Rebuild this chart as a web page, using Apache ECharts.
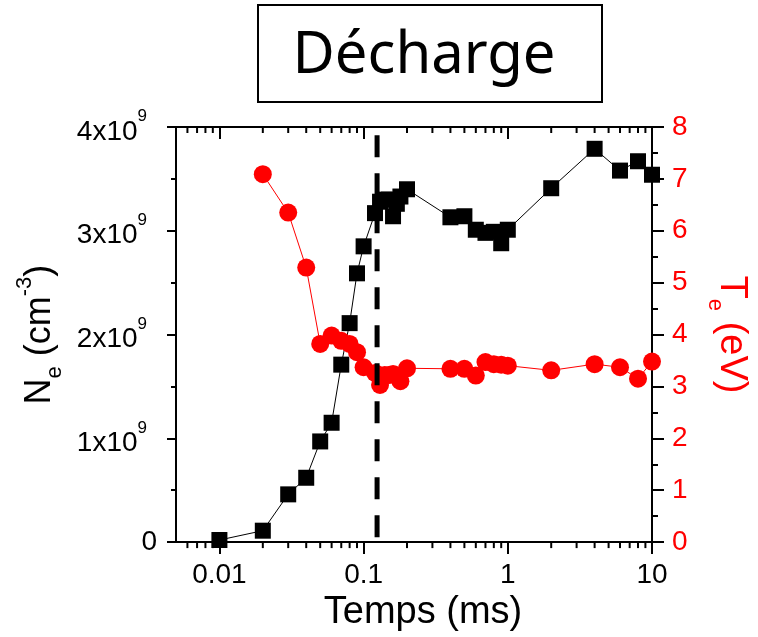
<!DOCTYPE html>
<html>
<head>
<meta charset="utf-8">
<script src="https://cdn.jsdelivr.net/npm/echarts@6/dist/echarts.min.js"></script>
<style>
  html, body { margin: 0; padding: 0; background: #fff; }
  #chart { width: 758px; height: 637px; }
</style>
</head>
<body>
<div id="chart"></div>
<script>
// temps (ms) et densité électronique (x1e9 cm-3)
var neTimes = [0.01, 0.02, 0.03, 0.04, 0.05, 0.06, 0.07, 0.08, 0.09, 0.1, 0.12, 0.13, 0.14, 0.15, 0.16, 0.17, 0.18, 0.2,
  0.4, 0.5, 0.6, 0.7, 0.8, 0.9, 1, 2, 4, 6, 8, 10];
var neValues = [0.02, 0.11, 0.46, 0.62, 0.97, 1.15, 1.71, 2.11, 2.59, 2.85, 3.17, 3.28, 3.30, 3.30, 3.14, 3.26, 3.33, 3.40,
  3.13, 3.14, 3.01, 2.98, 2.99, 2.88, 3.01, 3.41, 3.79, 3.58, 3.67, 3.54];

// température électronique (eV)
var teTimes = [0.02, 0.03, 0.04, 0.05, 0.06, 0.07, 0.08, 0.09, 0.1, 0.12, 0.13, 0.14, 0.15, 0.16, 0.17, 0.18, 0.2,
  0.4, 0.5, 0.6, 0.7, 0.8, 0.9, 1, 2, 4, 6, 8, 10];
var teValues = [7.09, 6.35, 5.29, 3.82, 3.98, 3.88, 3.82, 3.66, 3.37, 3.26, 3.03, 3.22, 3.22, 3.24, 3.21, 3.10, 3.35,
  3.34, 3.34, 3.21, 3.47, 3.43, 3.42, 3.40, 3.31, 3.43, 3.37, 3.15, 3.48];

// ligne pointillée verticale (ms) et son étendue sur l'axe Ne
var dashTime = 0.124;
var dashSpan = [-0.08e9, 3.92e9];

var xTickLabels = ['0.01', '0.1', '1', '10'];
var xMinorTicks = [0.006, 0.007, 0.008, 0.009,
  0.02, 0.03, 0.04, 0.05, 0.06, 0.07, 0.08, 0.09,
  0.2, 0.3, 0.4, 0.5, 0.6, 0.7, 0.8, 0.9,
  2, 3, 4, 5, 6, 7, 8, 9];
var neTickLabels = ['0', '1x10', '2x10', '3x10', '4x10'];
var neExponent = '9';
var teTickLabels = ['0', '1', '2', '3', '4', '5', '6', '7', '8'];

var FONT = '"Liberation Sans", Arial, sans-serif';

var chart = echarts.init(document.getElementById('chart'));

function xLabel(v) {
  var e = Math.log10(v);
  var k = Math.round(e);
  if (Math.abs(e - k) > 1e-6) return '';
  return xTickLabels[k + 2] || '';
}

var option = {
  animation: false,
  backgroundColor: '#fff',
  graphic: [
    {
      type: 'rect',
      shape: {x: 258, y: 5, width: 344, height: 97},
      style: {fill: '#fff', stroke: '#000', lineWidth: 2}
    },
    {
      type: 'text',
      x: 424, y: 56,
      style: {
        text: 'Décharge',
        font: '58px "Comic Sans MS", "Noto Sans", sans-serif',
        fill: '#000',
        align: 'center',
        verticalAlign: 'middle'
      }
    }
  ],
  grid: {left: 176, top: 127, width: 477, height: 417},
  xAxis: [
    {
      type: 'log',
      logBase: 10,
      min: 0.005,
      max: 10,
      position: 'bottom',
      name: 'Temps (ms)',
      nameLocation: 'middle',
      nameGap: 48,
      nameTextStyle: {fontSize: 38, fontFamily: FONT, color: '#000', padding: [0, 0, 0, 18]},
      axisLine: {show: true, onZero: false, lineStyle: {color: '#000', width: 2}},
      axisTick: {show: true, inside: false, length: 12, lineStyle: {color: '#000', width: 2}},
      minorTick: {show: false},
      axisLabel: {
        formatter: xLabel,
        fontSize: 28, fontFamily: FONT, color: '#000', margin: 19,
        showMinLabel: false
      },
      splitLine: {show: false}
    },
    {
      type: 'log',
      logBase: 10,
      min: 0.005,
      max: 10,
      position: 'top',
      axisLine: {show: true, onZero: false, lineStyle: {color: '#000', width: 2}},
      axisTick: {show: true, inside: true, length: 12, lineStyle: {color: '#000', width: 2}},
      axisLabel: {show: false},
      splitLine: {show: false}
    }
  ],
  yAxis: [
    {
      type: 'value',
      min: 0,
      max: 4e9,
      interval: 1e9,
      position: 'left',
      name: '{n|N}{sub|e}{n| (cm}{sup|-3}{n|)}',
      nameLocation: 'middle',
      nameGap: 108,
      nameTextStyle: {
        fontSize: 36, fontFamily: FONT, color: '#000',
        rich: {
          n: {fontSize: 36, fontFamily: FONT, color: '#000', lineHeight: 52},
          sub: {fontSize: 22, fontFamily: FONT, color: '#000', verticalAlign: 'bottom'},
          sup: {fontSize: 22, fontFamily: FONT, color: '#000', verticalAlign: 'top'}
        }
      },
      axisLine: {show: true, onZero: false, lineStyle: {color: '#000', width: 2}},
      axisTick: {show: true, inside: false, length: 9, lineStyle: {color: '#000', width: 2}},
      minorTick: {show: true, splitNumber: 2, length: 5, lineStyle: {color: '#000', width: 2}},
      axisLabel: {
        margin: 19,
        formatter: function (v) {
          var i = Math.round(v / 1e9);
          if (i === 0) return '{z|' + neTickLabels[0] + '}';
          return '{b|' + neTickLabels[i] + '}{s|' + neExponent + '}';
        },
        rich: {
          z: {fontSize: 28, fontFamily: FONT, color: '#000'},
          b: {fontSize: 28, fontFamily: FONT, color: '#000', padding: [10, 0, 0, 0]},
          s: {fontSize: 17, fontFamily: FONT, color: '#000', verticalAlign: 'top', padding: [0, 10, 0, 0]}
        }
      },
      splitLine: {show: false}
    },
    {
      type: 'value',
      min: 0,
      max: 8,
      interval: 1,
      position: 'right',
      name: '{n|T}{sub|e}{n| (eV)}',
      nameLocation: 'middle',
      nameRotate: -90,
      nameGap: 52,
      nameTextStyle: {
        fontSize: 38, fontFamily: FONT, color: '#ff0000',
        rich: {
          n: {fontSize: 38, fontFamily: FONT, color: '#ff0000', lineHeight: 54},
          sub: {fontSize: 22, fontFamily: FONT, color: '#ff0000', verticalAlign: 'bottom'}
        }
      },
      axisLine: {show: true, onZero: false, lineStyle: {color: '#000', width: 2}},
      axisTick: {show: true, inside: false, length: 12, lineStyle: {color: '#000', width: 2}},
      minorTick: {show: true, splitNumber: 2, length: 6, lineStyle: {color: '#000', width: 2}},
      axisLabel: {
        margin: 20,
        fontSize: 28, fontFamily: FONT, color: '#ff0000',
        formatter: function (v) { return teTickLabels[Math.round(v)]; }
      },
      splitLine: {show: false}
    }
  ],
  series: [
    {
      // petites graduations logarithmiques (haut et bas)
      type: 'custom',
      xAxisIndex: 0,
      yAxisIndex: 0,
      silent: true,
      clip: false,
      z: 1,
      data: xMinorTicks.map(function (v) { return [v, 0]; }),
      renderItem: function (params, api) {
        var x = api.coord([api.value(0), 0])[0];
        var cs = params.coordSys;
        return {
          type: 'group',
          children: [
            {type: 'line', shape: {x1: x, y1: cs.y + cs.height, x2: x, y2: cs.y + cs.height + 6},
              style: {stroke: '#000', lineWidth: 2}},
            {type: 'line', shape: {x1: x, y1: cs.y, x2: x, y2: cs.y + 6},
              style: {stroke: '#000', lineWidth: 2}}
          ]
        };
      }
    },
    {
      name: 'Ne',
      type: 'line',
      xAxisIndex: 0,
      yAxisIndex: 0,
      z: 2,
      data: neTimes.map(function (t, i) { return [t, neValues[i] * 1e9]; }),
      symbol: 'rect',
      symbolSize: 16,
      showAllSymbol: true,
      itemStyle: {color: '#000'},
      lineStyle: {color: '#000', width: 1}
    },
    {
      name: 'Te',
      type: 'line',
      xAxisIndex: 0,
      yAxisIndex: 1,
      z: 3,
      data: teTimes.map(function (t, i) { return [t, teValues[i]]; }),
      symbol: 'circle',
      symbolSize: 18,
      showAllSymbol: true,
      itemStyle: {color: '#ff0000'},
      lineStyle: {color: '#ff0000', width: 1}
    },
    {
      // ligne verticale pointillée
      type: 'line',
      xAxisIndex: 0,
      yAxisIndex: 0,
      z: 4,
      clip: false,
      silent: true,
      symbol: 'none',
      data: [[dashTime, dashSpan[1]], [dashTime, dashSpan[0]]],
      lineStyle: {color: '#000', width: 5, type: [22, 16]}
    }
  ]
};

chart.setOption(option);
</script>
</body>
</html>
